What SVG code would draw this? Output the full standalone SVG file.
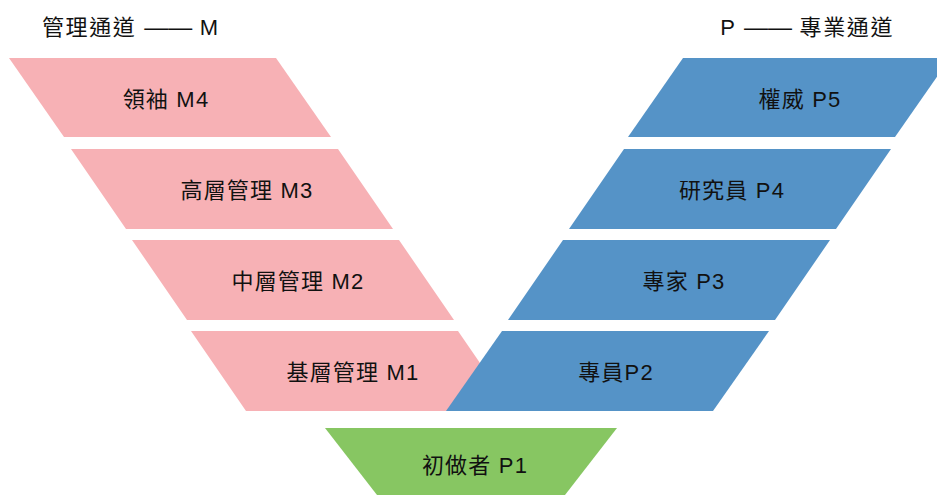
<svg xmlns="http://www.w3.org/2000/svg" width="937" height="495" viewBox="0 0 937 495">
<style>
text{font-family:"Liberation Sans","Noto Sans CJK TC",sans-serif;font-size:22px;fill:#111;letter-spacing:1.2px}
.lbl{text-anchor:middle}
.t{letter-spacing:1.6px}
.d{font-size:24px;letter-spacing:0}
.m{fill:#F7B1B5}
.p{fill:#5593C7}
.g{fill:#87C662}
</style>
<rect width="937" height="495" fill="#fff"/>
<g id="title-m"><text class="t" x="42" y="35">管理通道 <tspan class="d">——</tspan> M</text></g>
<g id="title-p"><text class="t" x="894" y="35" text-anchor="end">P <tspan class="d">——</tspan> 專業通道</text></g>
<g id="m4"><polygon class="m" points="9,58 276,58 331,137 64,137"/><text class="lbl" x="166" y="107">領袖 M4</text></g>
<g id="m3"><polygon class="m" points="71,149 338,149 393,229 126,229"/><text class="lbl" x="247" y="198">高層管理 M3</text></g>
<g id="m2"><polygon class="m" points="132,240 399,240 454,320 187,320"/><text class="lbl" x="298" y="289">中層管理 M2</text></g>
<g id="m1"><polygon class="m" points="191,331 458,331 513,411 246,411"/><text class="lbl" x="353" y="380">基層管理 M1</text></g>
<g id="p5"><polygon class="p" points="683,58 950,58 895,137 628,137"/><text class="lbl" x="800" y="107">權威 P5</text></g>
<g id="p4"><polygon class="p" points="624,149 891,149 836,229 569,229"/><text class="lbl" x="732" y="198">研究員 P4</text></g>
<g id="p3"><polygon class="p" points="563,240 830,240 775,320 508,320"/><text class="lbl" x="684" y="289">專家 P3</text></g>
<g id="p2"><polygon class="p" points="502,331 769,331 713,411 446,411"/><text class="lbl" x="616" y="380">專員P2</text></g>
<g id="p1"><polygon class="g" points="325,428 617,428 565,495 377,495"/><text class="lbl" x="475" y="473">初做者 P1</text></g>
<g id="connectors"></g>
</svg>
